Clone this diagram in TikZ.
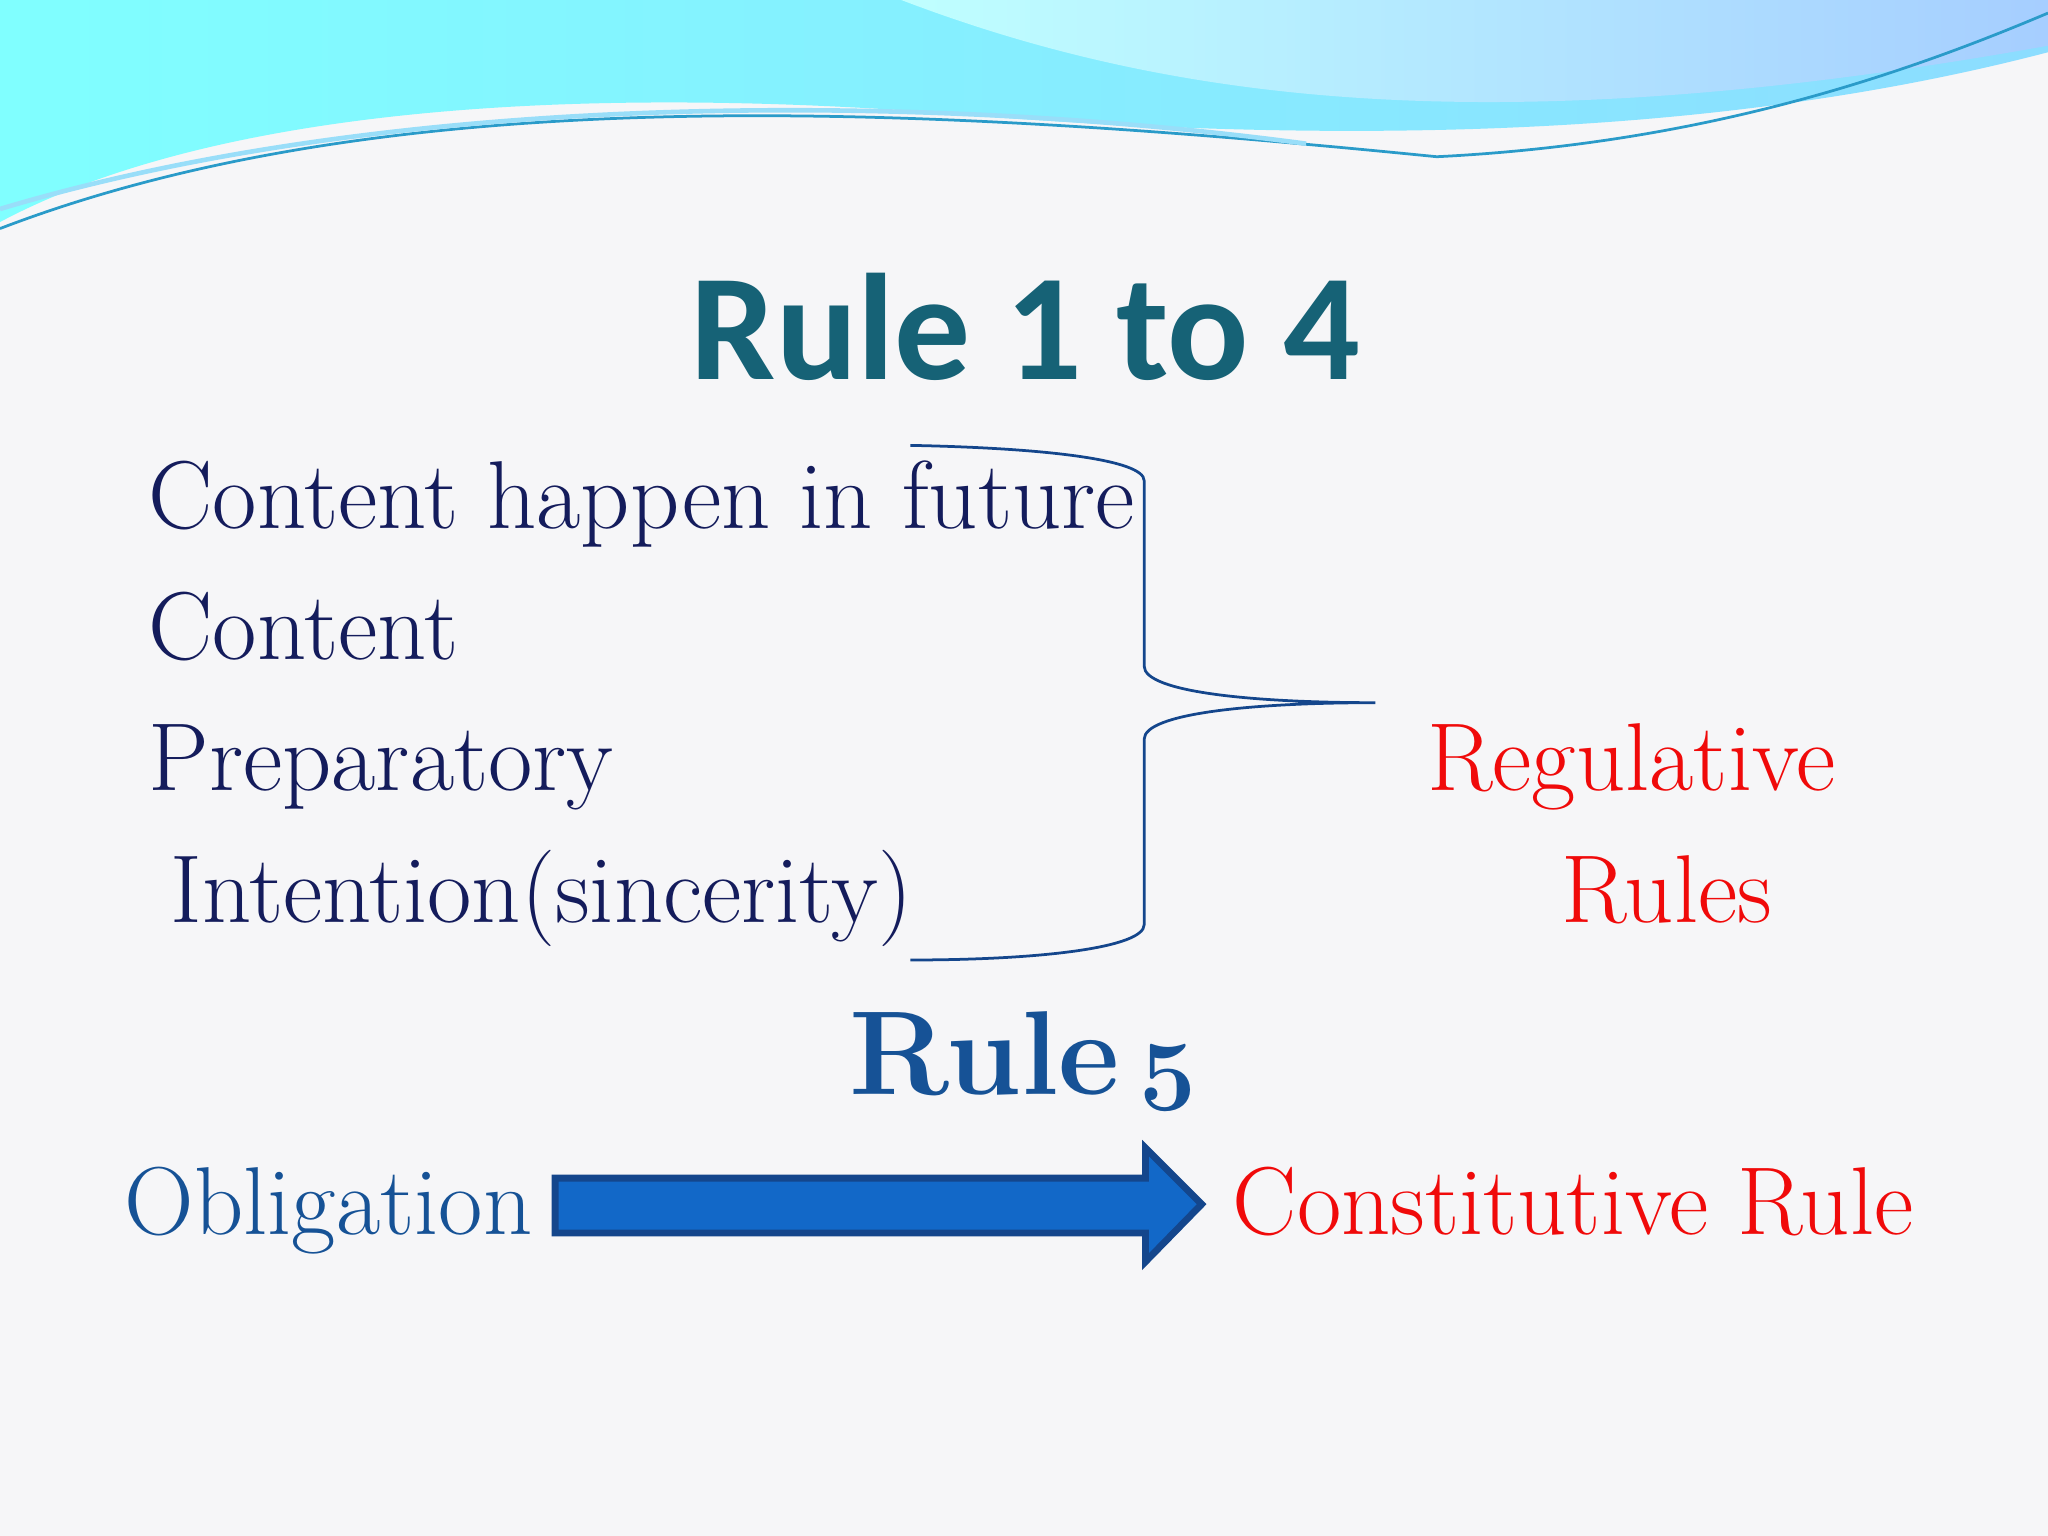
\documentclass[tikz,border=0pt]{standalone}
\usepackage{fontspec}
\newfontfamily\titlefont{Carlito}
\definecolor{teal1}{RGB}{22,98,118}
\definecolor{navy1}{RGB}{20,28,92}
\definecolor{red1}{RGB}{240,10,10}
\definecolor{blue1}{RGB}{22,82,150}
\definecolor{arrowfill}{RGB}{18,104,200}
\definecolor{arrowdraw}{RGB}{20,70,140}
\definecolor{bg}{RGB}{246,246,248}
\tikzset{body/.style={anchor=base west,inner sep=0pt,font=\fontsize{21}{23}\selectfont},
 brace/.style={draw=arrowdraw,line width=0.6pt}}
\begin{document}
\begin{tikzpicture}[x=0.01cm,y=-0.01cm]
\fill[bg] (0,0) rectangle (1568,1176);
\useasboundingbox (0,0) rectangle (1568,1176);
% wave
\shade[left color=cyan!50!white, right color=blue!30!cyan!45!white]
 (0,0) -- (1568,0) -- (1568,40) .. controls (1300,110) and (1000,110) .. (700,85)
 .. controls (400,65) and (150,90) .. (0,170) -- cycle;
\shade[left color=cyan!25!white, right color=cyan!45!blue!35!white]
 (690,0) .. controls (900,80) and (1150,110) .. (1568,35) -- (1568,0) -- cycle;
\draw[cyan!60!teal,line width=0.6pt] (0,175) .. controls (300,60) and (700,80) .. (1100,120) .. controls (1300,110) and (1450,60) .. (1568,10);
\draw[cyan!40!white,line width=1pt] (0,160) .. controls (300,70) and (700,70) .. (1000,110);
% title
\node[font=\titlefont\bfseries\fontsize{33}{35}\selectfont,text=teal1] (t1) at (785,250) {Rule 1 to 4};
\node[body,text=navy1] (a) at (113,405) {Content happen in future};
\node[body,text=navy1] (b) at (113,505) {Content};
\node[body,text=navy1] (c) at (113,605) {Preparatory};
\node[body,text=navy1] (d) at (130,706) {Intention(sincerity)};
\node[body,text=red1] (r1) at (1092,605) {Regulative};
\node[body,text=red1] (r2) at (1195,706) {Rules};
\coordinate (bt) at (697,341);
\coordinate (bb) at (697,735);
\coordinate (bm) at (1053,538);
\draw[brace] (bt) .. controls (800,343) and (876,352) .. (876,368) -- (876,510)
 .. controls (876,530) and (960,538) .. (bm)
 .. controls (960,538) and (876,546) .. (876,566) -- (876,708)
 .. controls (876,725) and (800,735) .. (bb);
\node[anchor=base west,inner sep=0pt,text=blue1,font=\bfseries\fontsize{26}{28}\selectfont] (r5) at (650,838) {Rule\,\raisebox{-0.3ex}{\fontsize{22}{24}\selectfont 5}};
\node[body,text=blue1] (ob) at (95,945) {Obligation};
\node[body,text=red1] (cr) at (943,945) {Constitutive Rule};
\filldraw[fill=arrowfill,draw=arrowdraw,line width=1.5pt]
 (425,902) -- (877,902) -- (877,879) -- (920,922) -- (877,966) -- (877,944) -- (425,944) -- cycle;
\end{tikzpicture}
\end{document}
